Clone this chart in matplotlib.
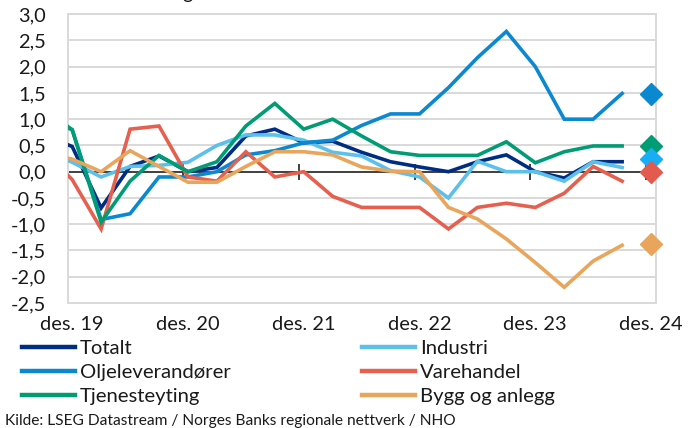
import matplotlib

matplotlib.use("Agg")
import matplotlib.pyplot as plt
from matplotlib.ticker import FuncFormatter, MultipleLocator

plt.rcParams["font.family"] = ["Lato", "DejaVu Sans"]

# quarterly observations, months after des. 19
months = [-2.5, 0.5, 3.5, 6.5, 9.5, 12.5, 15.5, 18.5, 21.5, 24.5, 27.5,
          30.5, 33.5, 36.5, 39.5, 42.5, 45.5, 48.5, 51.5, 54.5, 57.5]

totalt = [0.7, 0.48, -0.69, 0.1, 0.3, 0.0, 0.08, 0.68, 0.81, 0.55, 0.58,
          0.37, 0.19, 0.09, 0.0, 0.19, 0.32, 0.0, -0.12, 0.19, 0.19]
industri = [0.4, 0.18, -0.1, 0.1, 0.12, 0.18, 0.5, 0.7, 0.7, 0.6, 0.37,
            0.3, 0.02, -0.1, -0.5, 0.2, 0.0, 0.0, -0.18, 0.19, 0.08]
olje = [1.0, 0.8, -0.91, -0.8, -0.1, -0.1, 0.0, 0.32, 0.4, 0.55, 0.6,
        0.88, 1.1, 1.1, 1.6, 2.17, 2.67, 2.0, 1.0, 1.0, 1.49]
varehandel = [0.4, -0.15, -1.09, 0.81, 0.87, -0.1, -0.18, 0.38, -0.1, 0.0, -0.47,
              -0.68, -0.68, -0.68, -1.09, -0.68, -0.6, -0.68, -0.41, 0.1, -0.18]
tjeneste = [1.2, 0.8, -0.96, -0.18, 0.31, 0.0, 0.19, 0.87, 1.3, 0.81, 1.0,
            0.68, 0.38, 0.31, 0.31, 0.31, 0.57, 0.17, 0.38, 0.49, 0.49]
bygg = [0.35, 0.24, 0.0, 0.4, 0.1, -0.2, -0.2, 0.1, 0.38, 0.38, 0.32,
        0.09, 0.01, 0.0, -0.68, -0.9, -1.28, -1.73, -2.2, -1.7, -1.4]

# expectations, next observation
diamond_month = 60.5
diamond_values = [1.48, 0.49, 0.24, 0.0, -1.38]
diamond_colors = ["#0A88D0", "#009C73", "#17AEF5", "#E25B4E", "#E9A55B"]

year_ticks = [0, 12, 24, 36, 48, 60]
label_pos = [0.5, 12.5, 24.5, 36.5, 48.5, 60.5]
label_txt = ["des. 19", "des. 20", "des. 21", "des. 22", "des. 23", "des. 24"]

series = [
    ("Totalt", totalt, "#002D84"),
    ("Industri", industri, "#5BC0EB"),
    ("Oljeleverandører", olje, "#0A88D0"),
    ("Varehandel", varehandel, "#E5604E"),
    ("Tjenesteyting", tjeneste, "#009C73"),
    ("Bygg og anlegg", bygg, "#E9A55B"),
]

GRID = "#D9D9D9"
TEXT = "#1a1a1a"

fig = plt.figure(figsize=(7, 4.28), dpi=100)
ax = fig.add_axes([0.0976, 0.292, 0.8394, 0.675])

lines = {}
for name, vals, col in series:
    (ln,) = ax.plot(months, vals, color=col, linewidth=2.6, label=name,
                    solid_joinstyle="miter", zorder=3)
    lines[name] = ln

for v, c in zip(diamond_values, diamond_colors):
    ax.plot([diamond_month], [v], marker="D", markersize=11, color=c,
            linestyle="none", zorder=4, clip_on=False)

ax.axhline(0, color="#404040", linewidth=1.4, zorder=2)
ax.vlines(year_ticks, -0.15, 0.15, color="#404040", linewidth=1.4, zorder=2)

ax.set_xlim(0.1, 61)
ax.set_ylim(-2.5, 3.0)
ax.yaxis.set_major_locator(MultipleLocator(0.5))
ax.yaxis.set_major_formatter(FuncFormatter(lambda v, _: f"{v:.1f}".replace(".", ",")))
ax.grid(axis="y", color=GRID, linewidth=1.4, zorder=0)
ax.set_xticks(label_pos, labels=label_txt)
ax.tick_params(axis="both", length=0, labelsize=14.4, colors=TEXT)
ax.tick_params(axis="y", pad=16)
ax.tick_params(axis="x", pad=9)
for sp in ax.spines.values():
    sp.set_color(GRID)
    sp.set_linewidth(1.4)

leg_kw = dict(loc="upper left", frameon=False, fontsize=14.6, handlelength=2.6,
              handletextpad=0.25, labelspacing=0.33, borderpad=0, borderaxespad=0)
leg1 = fig.legend([lines["Totalt"], lines["Oljeleverandører"], lines["Tjenesteyting"]],
                  ["Totalt", "Oljeleverandører", "Tjenesteyting"],
                  bbox_to_anchor=(22 / 700, 0.205), **leg_kw)
leg2 = fig.legend([lines["Industri"], lines["Varehandel"], lines["Bygg og anlegg"]],
                  ["Industri", "Varehandel", "Bygg og anlegg"],
                  bbox_to_anchor=(362 / 700, 0.205), **leg_kw)
for lg in (leg1, leg2):
    for h in lg.get_lines():
        h.set_linewidth(3.2)
    for t in lg.get_texts():
        t.set_color(TEXT)

fig.text(5 / 700, 0.0, "Kilde: LSEG Datastream / Norges Banks regionale nettverk / NHO",
         fontsize=11.2, color=TEXT, ha="left", va="bottom")
# cropped heading above the chart, only the descender shows
fig.text(188 / 700, 1 + 1 / 428, "g", fontsize=14.4, color=TEXT, ha="center", va="baseline")

fig.savefig("out.png", dpi=100)
